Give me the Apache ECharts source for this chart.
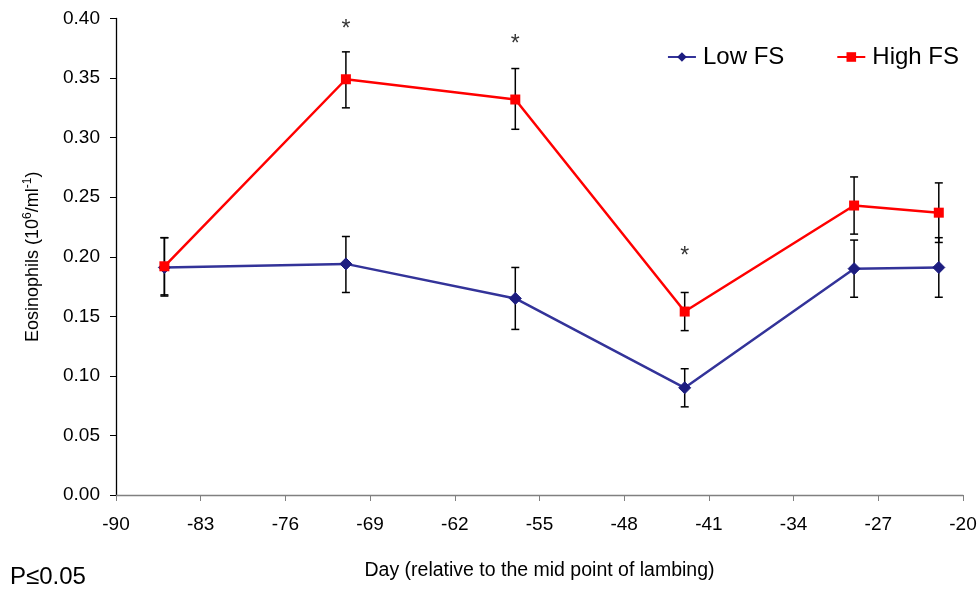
<!DOCTYPE html>
<html>
<head>
<meta charset="utf-8">
<script src="https://cdn.jsdelivr.net/npm/echarts@6/dist/echarts.min.js"></script>
<style>
  html, body { margin: 0; padding: 0; background: #fff; }
  #myChart { width: 980px; height: 592px; }
</style>
</head>
<body>
<div id="myChart"></div>
<script>
// days relative to mid point of lambing
const days = [-86, -71, -57, -43, -29, -22];

const lowFS = [0.191, 0.194, 0.165, 0.090, 0.190, 0.191];
const lowFSLow = [0.167, 0.170, 0.139, 0.074, 0.166, 0.166];
const lowFSHigh = [0.216, 0.217, 0.191, 0.106, 0.214, 0.216];

const highFS = [0.192, 0.349, 0.332, 0.154, 0.243, 0.237];
const highFSLow = [0.168, 0.325, 0.307, 0.138, 0.219, 0.212];
const highFSHigh = [0.216, 0.372, 0.358, 0.170, 0.267, 0.262];

// significance markers (P<=0.05)
const sigDays = [-71, -57, -43];
const sigY = [0.391, 0.378, 0.200];

const xTicks = [-90, -20, 7];
const yTicks = [0, 0.4, 0.05];

const font = "Liberation Sans, Arial, sans-serif";

const pairs = function(xs, ys) {
  return xs.map((x, i) => [x, ys[i]]);
};

const errorData = [];
days.forEach((d, i) => {
  errorData.push([d, lowFSLow[i], lowFSHigh[i]]);
  errorData.push([d, highFSLow[i], highFSHigh[i]]);
});

const renderErrorBar = function(params, api) {
  const lo = api.coord([api.value(0), api.value(1)]);
  const hi = api.coord([api.value(0), api.value(2)]);
  const cap = 4;
  const style = { stroke: "#000", lineWidth: 1.5 };
  return {
    type: "group",
    children: [
      { type: "line", shape: { x1: hi[0], y1: hi[1], x2: lo[0], y2: lo[1] }, style: style },
      { type: "line", shape: { x1: hi[0] - cap, y1: hi[1], x2: hi[0] + cap, y2: hi[1] }, style: style },
      { type: "line", shape: { x1: lo[0] - cap, y1: lo[1], x2: lo[0] + cap, y2: lo[1] }, style: style }
    ]
  };
};

const myChart = echarts.init(document.getElementById("myChart"));

const option = {
  animation: false,
  backgroundColor: "#fff",
  textStyle: { fontFamily: font },
  grid: { left: 116, right: 17, top: 18.5, bottom: 97, containLabel: false },
  legend: {
    top: 40,
    right: 16,
    itemGap: 52,
    itemWidth: 28,
    itemHeight: 12,
    textStyle: { fontSize: 24, color: "#000", fontFamily: font, padding: [0, 0, 0, 2] },
    data: ["Low FS", "High FS"]
  },
  graphic: [
    {
      type: "text",
      left: 10,
      top: 565,
      style: { text: "P\u22640.05", fontSize: 24, fill: "#000", fontFamily: font }
    }
  ],
  xAxis: {
    type: "value",
    min: xTicks[0],
    max: xTicks[1],
    interval: xTicks[2],
    name: "Day (relative to the mid point of lambing)",
    nameLocation: "middle",
    nameGap: 66,
    nameTextStyle: { fontSize: 19.5, color: "#000", fontFamily: font },
    splitLine: { show: false },
    axisLine: { lineStyle: { color: "#808080", width: 1.3 } },
    axisTick: { inside: false, length: 6, lineStyle: { color: "#808080" } },
    axisLabel: { fontSize: 19, color: "#000", margin: 20, fontFamily: font }
  },
  yAxis: {
    type: "value",
    min: yTicks[0],
    max: yTicks[1],
    interval: yTicks[2],
    name: "{a|Eosinophils (10}{s|6}{a|/ml}{s|-1}{a|)}",
    nameLocation: "middle",
    nameGap: 72,
    nameTextStyle: {
      color: "#000",
      fontFamily: font,
      rich: {
        a: { fontSize: 18, color: "#000", fontFamily: font, lineHeight: 22 },
        s: { fontSize: 12, color: "#000", fontFamily: font, lineHeight: 22, verticalAlign: "top" }
      }
    },
    splitLine: { show: false },
    axisLine: { show: true, lineStyle: { color: "#000", width: 1.3 } },
    axisTick: { show: true, inside: false, length: 6, lineStyle: { color: "#000" } },
    axisLabel: {
      fontSize: 19,
      color: "#000",
      margin: 16,
      fontFamily: font,
      formatter: function(v) { return v.toFixed(2); }
    }
  },
  series: [
    {
      name: "errors",
      type: "custom",
      renderItem: renderErrorBar,
      data: errorData,
      z: 1,
      silent: true
    },
    {
      name: "Low FS",
      type: "line",
      data: pairs(days, lowFS),
      symbol: "diamond",
      symbolSize: 12,
      color: "#333399",
      lineStyle: { color: "#333399", width: 2.5 },
      itemStyle: { color: "#1d1d80", borderColor: "#1d1d80" },
      z: 3
    },
    {
      name: "High FS",
      type: "line",
      data: pairs(days, highFS),
      symbol: "rect",
      symbolSize: 10,
      color: "#ff0000",
      lineStyle: { color: "#ff0000", width: 2.5 },
      itemStyle: { color: "#ff0000" },
      z: 4
    },
    {
      name: "sig",
      type: "scatter",
      data: pairs(sigDays, sigY),
      symbolSize: 0,
      silent: true,
      label: {
        show: true,
        position: "inside",
        formatter: "*",
        fontSize: 23,
        color: "#000",
        fontFamily: font
      }
    }
  ]
};

myChart.setOption(option);
</script>
</body>
</html>
